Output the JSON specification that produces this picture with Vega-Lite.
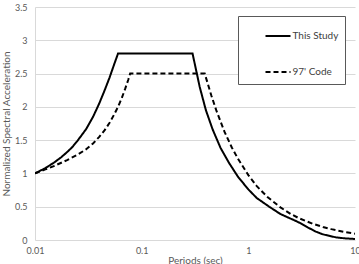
{
  "$schema": "https://vega.github.io/schema/vega-lite/v6.json",
  "width": 320,
  "height": 233,
  "autosize": {"type": "none"},
  "padding": {"left": 35, "top": 7, "right": 4, "bottom": 24},
  "background": "white",
  "config": {
    "view": {"stroke": null},
    "font": "Lato",
    "axis": {"labelFont": "Lato", "titleFont": "Lato", "labelColor": "#595959", "titleColor": "#595959", "labelFontSize": 9, "titleFontSize": 10, "titleFontWeight": "normal"}
  },
  "data": {"values": [
    {"T": 0.01, "SA": 1.0, "s": "This Study"},
    {"T": 0.0125, "SA": 1.08, "s": "This Study"},
    {"T": 0.015, "SA": 1.16, "s": "This Study"},
    {"T": 0.0175, "SA": 1.24, "s": "This Study"},
    {"T": 0.02, "SA": 1.32, "s": "This Study"},
    {"T": 0.0225, "SA": 1.40, "s": "This Study"},
    {"T": 0.025, "SA": 1.49, "s": "This Study"},
    {"T": 0.03, "SA": 1.66, "s": "This Study"},
    {"T": 0.035, "SA": 1.85, "s": "This Study"},
    {"T": 0.04, "SA": 2.05, "s": "This Study"},
    {"T": 0.045, "SA": 2.25, "s": "This Study"},
    {"T": 0.05, "SA": 2.44, "s": "This Study"},
    {"T": 0.055, "SA": 2.63, "s": "This Study"},
    {"T": 0.06, "SA": 2.8, "s": "This Study"},
    {"T": 0.3, "SA": 2.8, "s": "This Study"},
    {"T": 0.35, "SA": 2.3, "s": "This Study"},
    {"T": 0.4, "SA": 1.95, "s": "This Study"},
    {"T": 0.463, "SA": 1.66, "s": "This Study"},
    {"T": 0.55, "SA": 1.38, "s": "This Study"},
    {"T": 0.664, "SA": 1.15, "s": "This Study"},
    {"T": 0.8, "SA": 0.95, "s": "This Study"},
    {"T": 1.0, "SA": 0.76, "s": "This Study"},
    {"T": 1.2, "SA": 0.63, "s": "This Study"},
    {"T": 1.57, "SA": 0.5, "s": "This Study"},
    {"T": 2.0, "SA": 0.39, "s": "This Study"},
    {"T": 2.5, "SA": 0.32, "s": "This Study"},
    {"T": 2.8, "SA": 0.285, "s": "This Study"},
    {"T": 3.1, "SA": 0.25, "s": "This Study"},
    {"T": 3.6, "SA": 0.19, "s": "This Study"},
    {"T": 4.3, "SA": 0.125, "s": "This Study"},
    {"T": 5.0, "SA": 0.085, "s": "This Study"},
    {"T": 6.6, "SA": 0.04, "s": "This Study"},
    {"T": 8.0, "SA": 0.025, "s": "This Study"},
    {"T": 10, "SA": 0.015, "s": "This Study"},
    {"T": 0.01, "SA": 1.0, "s": "97' Code"},
    {"T": 0.0125, "SA": 1.06, "s": "97' Code"},
    {"T": 0.015, "SA": 1.11, "s": "97' Code"},
    {"T": 0.02, "SA": 1.2, "s": "97' Code"},
    {"T": 0.025, "SA": 1.28, "s": "97' Code"},
    {"T": 0.03, "SA": 1.36, "s": "97' Code"},
    {"T": 0.035, "SA": 1.45, "s": "97' Code"},
    {"T": 0.04, "SA": 1.55, "s": "97' Code"},
    {"T": 0.045, "SA": 1.65, "s": "97' Code"},
    {"T": 0.05, "SA": 1.76, "s": "97' Code"},
    {"T": 0.055, "SA": 1.88, "s": "97' Code"},
    {"T": 0.06, "SA": 2.0, "s": "97' Code"},
    {"T": 0.065, "SA": 2.13, "s": "97' Code"},
    {"T": 0.07, "SA": 2.27, "s": "97' Code"},
    {"T": 0.075, "SA": 2.41, "s": "97' Code"},
    {"T": 0.078, "SA": 2.5, "s": "97' Code"},
    {"T": 0.39, "SA": 2.5, "s": "97' Code"},
    {"T": 0.45, "SA": 2.17, "s": "97' Code"},
    {"T": 0.5, "SA": 1.95, "s": "97' Code"},
    {"T": 0.6, "SA": 1.62, "s": "97' Code"},
    {"T": 0.7, "SA": 1.39, "s": "97' Code"},
    {"T": 0.8, "SA": 1.22, "s": "97' Code"},
    {"T": 1.0, "SA": 0.975, "s": "97' Code"},
    {"T": 1.2, "SA": 0.81, "s": "97' Code"},
    {"T": 1.5, "SA": 0.65, "s": "97' Code"},
    {"T": 2.0, "SA": 0.49, "s": "97' Code"},
    {"T": 2.5, "SA": 0.39, "s": "97' Code"},
    {"T": 3.0, "SA": 0.325, "s": "97' Code"},
    {"T": 4.0, "SA": 0.245, "s": "97' Code"},
    {"T": 5.0, "SA": 0.195, "s": "97' Code"},
    {"T": 6.0, "SA": 0.163, "s": "97' Code"},
    {"T": 7.0, "SA": 0.14, "s": "97' Code"},
    {"T": 8.0, "SA": 0.12, "s": "97' Code"},
    {"T": 10, "SA": 0.095, "s": "97' Code"}
  ]},
  "mark": {"type": "line", "color": "#000000", "strokeWidth": 2, "clip": true},
  "encoding": {
    "x": {
      "field": "T", "type": "quantitative",
      "scale": {"type": "log", "domain": [0.01, 10], "nice": false},
      "axis": {"values": [0.01, 0.1, 1, 10], "format": "~g", "title": "Periods (sec)", "grid": false, "ticks": false, "domain": false, "labelPadding": 6, "titlePadding": 0, "labelFlush": false}
    },
    "y": {
      "field": "SA", "type": "quantitative",
      "scale": {"domain": [0, 3.5], "nice": false},
      "axis": {"values": [0, 0.5, 1, 1.5, 2, 2.5, 3, 3.5], "format": "~g", "title": "Normalized Spectral Acceleration", "grid": true, "gridColor": "#d9d9d9", "ticks": false, "domain": true, "domainColor": "#d9d9d9", "labelPadding": 8, "titlePadding": 3}
    },
    "strokeDash": {
      "field": "s", "type": "nominal",
      "scale": {"domain": ["This Study", "97' Code"], "range": [[1, 0], [5, 3]]},
      "legend": {"title": null, "orient": "none", "legendX": 203, "legendY": 9, "strokeColor": "#595959", "fillColor": "white", "padding": 6.5, "rowPadding": 17, "symbolOffset": 20, "symbolType": "stroke", "symbolSize": 625, "symbolStrokeWidth": 2, "symbolStrokeColor": "black", "labelFontSize": 10, "labelColor": "#404040", "labelOffset": 1, "labelFont": "Lato", "labelExpr": "datum.label + '      '"}
    }
  }
}
